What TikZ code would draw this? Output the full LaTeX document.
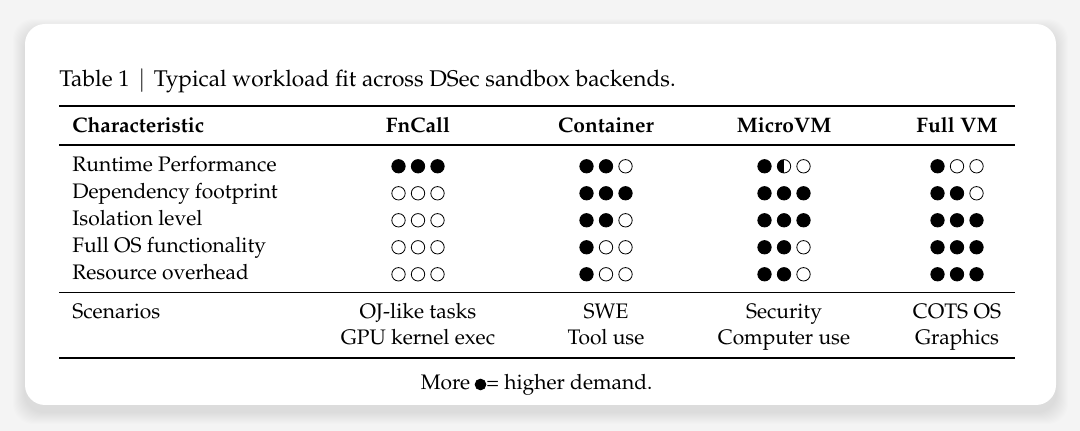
\documentclass[tikz,border=0pt]{standalone}
\usepackage[T1]{fontenc}
\usepackage{mathpazo}
\usetikzlibrary{positioning}
\definecolor{pagebg}{HTML}{F4F4F4}
\tikzset{
  cell/.style={inner sep=0pt, font=\fontsize{10.5}{13}\selectfont},
  lcell/.style={cell, anchor=base west},
  ccell/.style={cell, anchor=base},
  hcell/.style={cell, anchor=base, font=\fontsize{10.5}{13}\selectfont\bfseries},
  dot/.style={circle, inner sep=0pt, minimum size=6.7pt, line width=0.4pt},
  df/.style={draw=black, fill=black},
  de/.style={draw=black, fill=white},
  dh/.style={draw=black, fill=white, path picture={\fill[black] (path picture bounding box.north west) rectangle (path picture bounding box.south);}},
  toprule/.style={line width=0.9pt},
  midrule/.style={line width=0.55pt},
}
% three dots: x, y, code (f = full, h = half, e = empty)
\newcommand\rating[3]{\expandafter\ratingrow#3\relax{#1}{#2}}
\def\ratingrow#1#2#3\relax#4#5{%
  \node[dot,d#1] at ({#4-19.5},#5) {};
  \node[dot,d#2] at (#4,#5) {};
  \node[dot,d#3] at ({#4+19.5},#5) {};}
\begin{document}
\begin{tikzpicture}[x=0.5pt,y=-0.5pt]
\useasboundingbox (0,0) rectangle (1080,431);
\fill[pagebg] (0,0) rectangle (1080,431);
\foreach \s in {1,...,12}
  \fill[black, opacity=0.009, rounded corners=10pt] (25-\s,31-\s) rectangle (1056+\s,412+\s);
\fill[white, rounded corners=10pt] (25,24) rectangle (1056,405);
\node[lcell, font=\fontsize{11.35}{13}\selectfont] (caption) at (59,87) {Table 1\hspace{4.3pt}$|$\hspace{4.3pt}Typical workload fit across DSec sandbox backends.};
% rules
\draw[toprule] (59,105.7) -- (1014.5,105.7);
\draw[midrule] (59,145) -- (1014.5,145);
\draw[midrule] (59,292.5) -- (1014.5,292.5);
\draw[toprule] (59,358.3) -- (1014.5,358.3);
% header
\node[hcell, anchor=base west] (head) at (72,132.3) {Characteristic};
\foreach \x/\t [count=\j] in {418/FnCall,606/Container,784/MicroVM,957/Full VM}
  \node[hcell] (head\j) at (\x,132.3) {\t};
% rows
\foreach \name/\ra/\rb/\rcc/\rd [count=\i from 0] in {
  Runtime Performance/fff/ffe/fhe/fee,
  Dependency footprint/eee/fff/fff/ffe,
  Isolation level/eee/ffe/fff/fff,
  Full OS functionality/eee/fee/ffe/fff,
  Resource overhead/eee/fee/ffe/fff}{
  \pgfmathsetmacro\yb{172+27*\i}
  \node[lcell] (row\i) at (72,\yb) {\name};
  \rating{418}{\yb-5.7}{\ra}
  \rating{606}{\yb-5.7}{\rb}
  \rating{784}{\yb-5.7}{\rcc}
  \rating{957}{\yb-5.7}{\rd}
}
% scenarios
\node[lcell] (scen) at (72,318.3) {Scenarios};
\foreach \x/\ta/\tb [count=\j] in {418/OJ-like tasks/GPU kernel exec,606/SWE/Tool use,
    784/Security/Computer use,957/COTS OS/Graphics}{
  \node[ccell] (scen\j a) at (\x,318.3) {\ta};
  \node[ccell] (scen\j b) at (\x,345) {\tb};
}
% note
\node[dot, df, minimum size=5.4pt] (notedot) at (480.5,384.5) {};
\node[cell, anchor=base east] (more) at (470.5,390) {More};
\node[cell, anchor=base west] (demand) at (486,390) {= higher demand.};
\end{tikzpicture}
\end{document}
